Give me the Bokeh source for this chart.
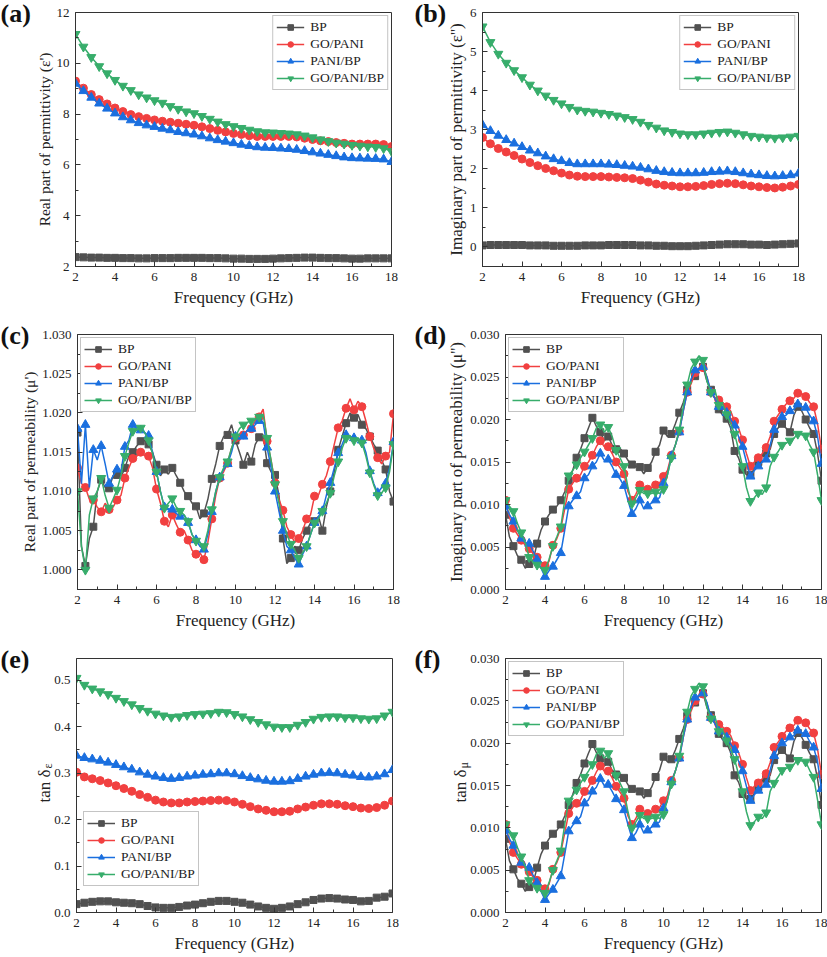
from bokeh.plotting import figure
from bokeh.layouts import column, row
from bokeh.models import FixedTicker, PrintfTickFormatter, Range1d, Title
from bokeh.embed import file_html
from bokeh.resources import INLINE

# ---------------- data ----------------
SERIES = ["BP", "GO/PANI", "PANI/BP", "GO/PANI/BP"]

FREQ41 = [2.0, 2.4, 2.8, 3.2, 3.6, 4.0, 4.4, 4.8, 5.2, 5.6, 6.0, 6.4, 6.8, 7.2, 7.6, 8.0, 8.4,
          8.8, 9.2, 9.6, 10.0, 10.4, 10.8, 11.2, 11.6, 12.0, 12.4, 12.8, 13.2, 13.6, 14.0, 14.4,
          14.8, 15.2, 15.6, 16.0, 16.4, 16.8, 17.2, 17.6, 18.0]

FREQ81 = [2.0, 2.2, 2.4, 2.6, 2.8, 3.0, 3.2, 3.4, 3.6, 3.8, 4.0, 4.2, 4.4, 4.6, 4.8, 5.0, 5.2,
          5.4, 5.6, 5.8, 6.0, 6.2, 6.4, 6.6, 6.8, 7.0, 7.2, 7.4, 7.6, 7.8, 8.0, 8.2, 8.4, 8.6,
          8.8, 9.0, 9.2, 9.4, 9.6, 9.8, 10.0, 10.2, 10.4, 10.6, 10.8, 11.0, 11.2, 11.4, 11.6,
          11.8, 12.0, 12.2, 12.4, 12.6, 12.8, 13.0, 13.2, 13.4, 13.6, 13.8, 14.0, 14.2, 14.4,
          14.6, 14.8, 15.0, 15.2, 15.4, 15.6, 15.8, 16.0, 16.2, 16.4, 16.6, 16.8, 17.0, 17.2,
          17.4, 17.6, 17.8, 18.0]

# (a) real permittivity
EPS_R_BP = [2.37, 2.36, 2.35, 2.35, 2.34, 2.34, 2.33, 2.33, 2.32, 2.32, 2.33, 2.33, 2.33, 2.34,
            2.34, 2.34, 2.34, 2.33, 2.33, 2.32, 2.31, 2.31, 2.30, 2.30, 2.30, 2.31, 2.32, 2.33,
            2.34, 2.35, 2.35, 2.34, 2.33, 2.33, 2.32, 2.31, 2.31, 2.32, 2.32, 2.32, 2.32]
EPS_R_GOPANI = [9.30, 9.02, 8.77, 8.57, 8.40, 8.24, 8.10, 7.98, 7.90, 7.83, 7.77, 7.72, 7.68,
                7.64, 7.60, 7.56, 7.50, 7.43, 7.36, 7.30, 7.24, 7.20, 7.15, 7.12, 7.12, 7.12,
                7.12, 7.12, 7.10, 7.05, 7.00, 6.95, 6.92, 6.88, 6.85, 6.82, 6.82, 6.82, 6.82,
                6.80, 6.72]
EPS_R_PANIBP = [9.20, 8.91, 8.65, 8.42, 8.22, 8.03, 7.88, 7.76, 7.65, 7.56, 7.50, 7.43, 7.37,
                7.30, 7.25, 7.20, 7.13, 7.05, 6.98, 6.92, 6.86, 6.80, 6.75, 6.70, 6.68, 6.67,
                6.65, 6.63, 6.60, 6.55, 6.50, 6.45, 6.40, 6.35, 6.30, 6.27, 6.26, 6.25, 6.24,
                6.22, 6.12]
EPS_R_GOPANIBP = [11.15, 10.65, 10.24, 9.88, 9.60, 9.34, 9.11, 8.94, 8.77, 8.65, 8.54, 8.44,
                  8.31, 8.20, 8.10, 8.03, 7.92, 7.81, 7.70, 7.60, 7.52, 7.45, 7.38, 7.32, 7.28,
                  7.27, 7.25, 7.23, 7.20, 7.15, 7.08, 7.00, 6.93, 6.87, 6.83, 6.78, 6.75, 6.72,
                  6.70, 6.65, 6.54]

# (b) imaginary permittivity
EPS_I_BP = [0.04, 0.05, 0.05, 0.05, 0.05, 0.05, 0.04, 0.04, 0.04, 0.03, 0.03, 0.03, 0.03, 0.04,
            0.04, 0.04, 0.05, 0.05, 0.05, 0.05, 0.04, 0.04, 0.03, 0.03, 0.02, 0.02, 0.02, 0.03,
            0.04, 0.05, 0.06, 0.07, 0.07, 0.07, 0.06, 0.06, 0.05, 0.06, 0.07, 0.08, 0.09]
EPS_I_GOPANI = [2.80, 2.64, 2.52, 2.43, 2.34, 2.25, 2.16, 2.08, 2.01, 1.95, 1.89, 1.84, 1.81,
                1.80, 1.80, 1.80, 1.79, 1.78, 1.77, 1.75, 1.71, 1.66, 1.61, 1.58, 1.56, 1.54,
                1.54, 1.55, 1.57, 1.60, 1.62, 1.63, 1.62, 1.59, 1.56, 1.54, 1.52, 1.51, 1.53,
                1.56, 1.60]
EPS_I_PANIBP = [3.12, 2.97, 2.85, 2.74, 2.65, 2.56, 2.47, 2.40, 2.32, 2.25, 2.20, 2.15, 2.12,
                2.12, 2.12, 2.12, 2.11, 2.10, 2.08, 2.06, 2.03, 1.99, 1.95, 1.92, 1.90, 1.89,
                1.89, 1.89, 1.90, 1.92, 1.93, 1.94, 1.92, 1.89, 1.86, 1.84, 1.82, 1.81, 1.82,
                1.84, 1.88]
EPS_I_GOPANIBP = [5.64, 5.24, 4.94, 4.71, 4.52, 4.34, 4.15, 4.00, 3.87, 3.76, 3.67, 3.58, 3.51,
                  3.48, 3.46, 3.43, 3.40, 3.36, 3.32, 3.27, 3.20, 3.12, 3.05, 2.98, 2.94, 2.90,
                  2.88, 2.88, 2.90, 2.92, 2.94, 2.95, 2.92, 2.88, 2.84, 2.82, 2.80, 2.79, 2.80,
                  2.82, 2.84]

# (c) real permeability
MU_R_BP = [1.0175, 1.0030, 1.0005, 1.0040, 1.0055, 1.0100, 1.0115, 1.0105, 1.0104, 1.0120,
           1.0121, 1.0118, 1.0130, 1.0145, 1.0150, 1.0158, 1.0164, 1.0165, 1.0160, 1.0150,
           1.0134, 1.0120, 1.0128, 1.0122, 1.0130, 1.0120, 1.0111, 1.0100, 1.0094, 1.0085,
           1.0081, 1.0065, 1.0072, 1.0090, 1.0116, 1.0135, 1.0158, 1.0170, 1.0172, 1.0185,
           1.0165, 1.0150, 1.0134, 1.0150, 1.0138, 1.0160, 1.0169, 1.0172, 1.0136, 1.0125,
           1.0121, 1.0095, 1.0040, 1.0008, 1.0015, 1.0030, 1.0025, 1.0040, 1.0050, 1.0060,
           1.0062, 1.0068, 1.0050, 1.0080, 1.0100, 1.0125, 1.0153, 1.0170, 1.0187, 1.0200,
           1.0194, 1.0198, 1.0185, 1.0180, 1.0170, 1.0160, 1.0152, 1.0140, 1.0128, 1.0100,
           1.0087]
MU_R_GOPANI = [1.0130, 1.0110, 1.0105, 1.0090, 1.0089, 1.0080, 1.0074, 1.0085, 1.0077, 1.0080,
               1.0089, 1.0095, 1.0117, 1.0130, 1.0142, 1.0145, 1.0150, 1.0146, 1.0145, 1.0130,
               1.0103, 1.0085, 1.0062, 1.0055, 1.0070, 1.0058, 1.0048, 1.0050, 1.0038, 1.0025,
               1.0020, 1.0022, 1.0013, 1.0035, 1.0065, 1.0095, 1.0117, 1.0125, 1.0136, 1.0155,
               1.0168, 1.0165, 1.0172, 1.0178, 1.0180, 1.0190, 1.0195, 1.0205, 1.0164, 1.0140,
               1.0111, 1.0090, 1.0076, 1.0055, 1.0045, 1.0035, 1.0040, 1.0050, 1.0065, 1.0070,
               1.0094, 1.0095, 1.0109, 1.0120, 1.0138, 1.0160, 1.0181, 1.0190, 1.0206, 1.0218,
               1.0204, 1.0215, 1.0208, 1.0190, 1.0170, 1.0155, 1.0143, 1.0135, 1.0145, 1.0150,
               1.0199]
MU_R_PANIBP = [1.0180, 1.0110, 1.0185, 1.0105, 1.0153, 1.0140, 1.0158, 1.0135, 1.0110, 1.0120,
               1.0128, 1.0125, 1.0157, 1.0165, 1.0185, 1.0180, 1.0178, 1.0175, 1.0171, 1.0150,
               1.0125, 1.0100, 1.0080, 1.0078, 1.0077, 1.0072, 1.0068, 1.0070, 1.0060, 1.0045,
               1.0038, 1.0030, 1.0026, 1.0045, 1.0074, 1.0100, 1.0118, 1.0128, 1.0135, 1.0150,
               1.0170, 1.0172, 1.0170, 1.0178, 1.0180, 1.0185, 1.0190, 1.0188, 1.0156, 1.0130,
               1.0100, 1.0075, 1.0050, 1.0030, 1.0025, 1.0015, 1.0007, 1.0020, 1.0030, 1.0045,
               1.0060, 1.0068, 1.0075, 1.0095, 1.0111, 1.0130, 1.0149, 1.0160, 1.0172, 1.0170,
               1.0168, 1.0165, 1.0165, 1.0150, 1.0126, 1.0110, 1.0098, 1.0105, 1.0110, 1.0130,
               1.0163]
MU_R_GOPANIBP = [1.0100, 1.0030, 1.0000, 1.0070, 1.0091, 1.0100, 1.0117, 1.0095, 1.0079, 1.0090,
                 1.0102, 1.0120, 1.0145, 1.0162, 1.0177, 1.0178, 1.0181, 1.0175, 1.0165, 1.0148,
                 1.0125, 1.0100, 1.0079, 1.0085, 1.0091, 1.0080, 1.0075, 1.0070, 1.0062, 1.0045,
                 1.0037, 1.0035, 1.0030, 1.0050, 1.0077, 1.0100, 1.0118, 1.0130, 1.0138, 1.0155,
                 1.0170, 1.0180, 1.0185, 1.0188, 1.0190, 1.0192, 1.0195, 1.0198, 1.0168, 1.0140,
                 1.0109, 1.0085, 1.0062, 1.0045, 1.0033, 1.0025, 1.0015, 1.0022, 1.0030, 1.0045,
                 1.0060, 1.0065, 1.0075, 1.0085, 1.0098, 1.0120, 1.0138, 1.0155, 1.0168, 1.0170,
                 1.0165, 1.0168, 1.0162, 1.0145, 1.0124, 1.0108, 1.0095, 1.0098, 1.0105, 1.0125,
                 1.0160]

# (d) imaginary permeability
MU_I_BP = [0.0088, 0.0062, 0.0051, 0.0040, 0.0035, 0.0025, 0.0030, 0.0035, 0.0054, 0.0070,
           0.0080, 0.0088, 0.0094, 0.0098, 0.0105, 0.0115, 0.0128, 0.0140, 0.0155, 0.0165,
           0.0178, 0.0190, 0.0202, 0.0192, 0.0185, 0.0175, 0.0180, 0.0170, 0.0165, 0.0166,
           0.0160, 0.0152, 0.0147, 0.0145, 0.0144, 0.0136, 0.0143, 0.0150, 0.0162, 0.0170,
           0.0187, 0.0180, 0.0183, 0.0195, 0.0208, 0.0220, 0.0235, 0.0245, 0.0251, 0.0260,
           0.0262, 0.0245, 0.0235, 0.0225, 0.0212, 0.0205, 0.0201, 0.0190, 0.0163, 0.0155,
           0.0141, 0.0135, 0.0135, 0.0142, 0.0150, 0.0158, 0.0160, 0.0165, 0.0183, 0.0190,
           0.0195, 0.0190, 0.0185, 0.0205, 0.0215, 0.0210, 0.0200, 0.0190, 0.0183, 0.0160,
           0.0128]
MU_I_GOPANI = [0.0105, 0.0085, 0.0072, 0.0065, 0.0058, 0.0052, 0.0048, 0.0042, 0.0038, 0.0032,
               0.0028, 0.0033, 0.0052, 0.0060, 0.0072, 0.0095, 0.0118, 0.0125, 0.0131, 0.0135,
               0.0145, 0.0150, 0.0158, 0.0168, 0.0175, 0.0168, 0.0168, 0.0160, 0.0150, 0.0143,
               0.0136, 0.0115, 0.0105, 0.0112, 0.0123, 0.0118, 0.0118, 0.0120, 0.0123, 0.0125,
               0.0133, 0.0140, 0.0158, 0.0170, 0.0186, 0.0210, 0.0232, 0.0242, 0.0255, 0.0260,
               0.0261, 0.0250, 0.0232, 0.0225, 0.0223, 0.0220, 0.0215, 0.0210, 0.0198, 0.0190,
               0.0176, 0.0160, 0.0145, 0.0150, 0.0155, 0.0160, 0.0167, 0.0180, 0.0198, 0.0205,
               0.0212, 0.0218, 0.0222, 0.0225, 0.0231, 0.0230, 0.0227, 0.0220, 0.0215, 0.0195,
               0.0165]
MU_I_PANIBP = [0.0098, 0.0088, 0.0080, 0.0070, 0.0060, 0.0055, 0.0054, 0.0045, 0.0035, 0.0025,
               0.0015, 0.0022, 0.0027, 0.0035, 0.0043, 0.0070, 0.0098, 0.0105, 0.0110, 0.0115,
               0.0131, 0.0135, 0.0145, 0.0150, 0.0160, 0.0152, 0.0153, 0.0145, 0.0135, 0.0130,
               0.0122, 0.0105, 0.0089, 0.0095, 0.0105, 0.0095, 0.0098, 0.0102, 0.0105, 0.0108,
               0.0125, 0.0135, 0.0157, 0.0170, 0.0185, 0.0210, 0.0232, 0.0248, 0.0258, 0.0260,
               0.0262, 0.0250, 0.0232, 0.0225, 0.0215, 0.0215, 0.0208, 0.0200, 0.0193, 0.0180,
               0.0168, 0.0150, 0.0133, 0.0140, 0.0145, 0.0150, 0.0153, 0.0170, 0.0188, 0.0198,
               0.0203, 0.0205, 0.0210, 0.0212, 0.0218, 0.0215, 0.0214, 0.0205, 0.0198, 0.0180,
               0.0148]
MU_I_GOPANIBP = [0.0105, 0.0098, 0.0092, 0.0078, 0.0067, 0.0055, 0.0038, 0.0032, 0.0029, 0.0025,
                 0.0023, 0.0035, 0.0051, 0.0062, 0.0074, 0.0105, 0.0134, 0.0140, 0.0147, 0.0155,
                 0.0162, 0.0170, 0.0178, 0.0190, 0.0194, 0.0185, 0.0191, 0.0180, 0.0164, 0.0155,
                 0.0145, 0.0120, 0.0101, 0.0108, 0.0117, 0.0113, 0.0113, 0.0113, 0.0115, 0.0113,
                 0.0118, 0.0135, 0.0155, 0.0170, 0.0188, 0.0215, 0.0241, 0.0260, 0.0268, 0.0275,
                 0.0270, 0.0245, 0.0232, 0.0235, 0.0217, 0.0218, 0.0206, 0.0195, 0.0183, 0.0165,
                 0.0145, 0.0120, 0.0104, 0.0108, 0.0114, 0.0112, 0.0120, 0.0145, 0.0156, 0.0162,
                 0.0170, 0.0172, 0.0175, 0.0178, 0.0183, 0.0182, 0.0181, 0.0170, 0.0162, 0.0135,
                 0.0105]

# (e) dielectric loss tangent
TAN_E_BP = [0.018, 0.021, 0.023, 0.024, 0.024, 0.022, 0.021, 0.020, 0.018, 0.014, 0.011, 0.010,
            0.010, 0.012, 0.015, 0.017, 0.020, 0.023, 0.025, 0.025, 0.023, 0.021, 0.017, 0.013,
            0.010, 0.008, 0.010, 0.013, 0.018, 0.022, 0.027, 0.030, 0.031, 0.030, 0.028, 0.027,
            0.024, 0.025, 0.032, 0.034, 0.041]
TAN_E_GOPANI = [0.302, 0.292, 0.288, 0.284, 0.279, 0.273, 0.267, 0.261, 0.254, 0.248, 0.242,
                0.238, 0.236, 0.236, 0.238, 0.239, 0.240, 0.241, 0.242, 0.241, 0.238, 0.233,
                0.228, 0.223, 0.220, 0.217, 0.217, 0.218, 0.223, 0.227, 0.231, 0.234, 0.234,
                0.233, 0.230, 0.228, 0.225, 0.224, 0.226, 0.231, 0.240]
TAN_E_PANIBP = [0.338, 0.333, 0.330, 0.327, 0.323, 0.318, 0.313, 0.308, 0.302, 0.297, 0.293,
                0.290, 0.288, 0.290, 0.293, 0.295, 0.297, 0.298, 0.300, 0.300, 0.298, 0.294,
                0.290, 0.287, 0.284, 0.282, 0.282, 0.283, 0.288, 0.293, 0.297, 0.300, 0.301,
                0.300, 0.297, 0.295, 0.292, 0.291, 0.293, 0.298, 0.307]
TAN_E_GOPANIBP = [0.505, 0.490, 0.482, 0.476, 0.470, 0.462, 0.455, 0.448, 0.440, 0.434, 0.428,
                  0.424, 0.421, 0.422, 0.425, 0.427, 0.428, 0.429, 0.432, 0.431, 0.427, 0.422,
                  0.416, 0.410, 0.405, 0.400, 0.399, 0.399, 0.404, 0.410, 0.417, 0.421, 0.422,
                  0.422, 0.420, 0.420, 0.418, 0.417, 0.418, 0.424, 0.432]

# (f) magnetic loss tangent
TAN_M_BP = [0.0087, 0.0061, 0.0051, 0.0040, 0.0034, 0.0025, 0.0030, 0.0035, 0.0053, 0.0069,
            0.0079, 0.0087, 0.0093, 0.0097, 0.0104, 0.0114, 0.0127, 0.0139, 0.0153, 0.0163,
            0.0176, 0.0188, 0.0199, 0.0189, 0.0182, 0.0173, 0.0178, 0.0168, 0.0163, 0.0164,
            0.0159, 0.0151, 0.0146, 0.0144, 0.0143, 0.0135, 0.0141, 0.0148, 0.0160, 0.0168,
            0.0184, 0.0178, 0.0181, 0.0192, 0.0205, 0.0217, 0.0232, 0.0242, 0.0248, 0.0257,
            0.0259, 0.0242, 0.0233, 0.0224, 0.0211, 0.0204, 0.0200, 0.0189, 0.0162, 0.0154,
            0.0140, 0.0134, 0.0134, 0.0141, 0.0148, 0.0156, 0.0158, 0.0162, 0.0180, 0.0187,
            0.0192, 0.0187, 0.0182, 0.0202, 0.0212, 0.0207, 0.0198, 0.0188, 0.0181, 0.0158,
            0.0127]
TAN_M_GOPANI = [0.0104, 0.0084, 0.0071, 0.0064, 0.0057, 0.0052, 0.0048, 0.0042, 0.0038, 0.0032,
                0.0028, 0.0033, 0.0051, 0.0059, 0.0071, 0.0094, 0.0117, 0.0124, 0.0129, 0.0133,
                0.0143, 0.0148, 0.0156, 0.0166, 0.0173, 0.0167, 0.0167, 0.0159, 0.0149, 0.0142,
                0.0135, 0.0114, 0.0104, 0.0111, 0.0122, 0.0117, 0.0117, 0.0119, 0.0122, 0.0124,
                0.0132, 0.0138, 0.0156, 0.0167, 0.0183, 0.0207, 0.0228, 0.0238, 0.0250, 0.0255,
                0.0258, 0.0247, 0.0230, 0.0224, 0.0222, 0.0219, 0.0214, 0.0209, 0.0197, 0.0189,
                0.0175, 0.0159, 0.0144, 0.0149, 0.0153, 0.0158, 0.0164, 0.0177, 0.0195, 0.0201,
                0.0208, 0.0214, 0.0218, 0.0221, 0.0227, 0.0226, 0.0224, 0.0217, 0.0212, 0.0193,
                0.0163]
TAN_M_PANIBP = [0.0097, 0.0087, 0.0079, 0.0069, 0.0059, 0.0054, 0.0053, 0.0044, 0.0035, 0.0025,
                0.0015, 0.0022, 0.0027, 0.0035, 0.0043, 0.0069, 0.0096, 0.0103, 0.0108, 0.0113,
                0.0129, 0.0133, 0.0143, 0.0148, 0.0158, 0.0150, 0.0151, 0.0143, 0.0134, 0.0129,
                0.0121, 0.0104, 0.0088, 0.0094, 0.0104, 0.0094, 0.0097, 0.0101, 0.0104, 0.0107,
                0.0123, 0.0133, 0.0154, 0.0167, 0.0182, 0.0207, 0.0228, 0.0244, 0.0254, 0.0256,
                0.0259, 0.0248, 0.0230, 0.0223, 0.0214, 0.0214, 0.0207, 0.0199, 0.0192, 0.0179,
                0.0167, 0.0149, 0.0132, 0.0139, 0.0144, 0.0148, 0.0151, 0.0168, 0.0185, 0.0195,
                0.0200, 0.0202, 0.0207, 0.0209, 0.0215, 0.0212, 0.0211, 0.0202, 0.0195, 0.0178,
                0.0146]
TAN_M_GOPANIBP = [0.0104, 0.0097, 0.0091, 0.0077, 0.0066, 0.0054, 0.0038, 0.0032, 0.0029, 0.0025,
                  0.0023, 0.0035, 0.0050, 0.0061, 0.0073, 0.0104, 0.0132, 0.0138, 0.0145, 0.0153,
                  0.0160, 0.0167, 0.0175, 0.0187, 0.0191, 0.0182, 0.0188, 0.0177, 0.0162, 0.0153,
                  0.0143, 0.0119, 0.0100, 0.0107, 0.0115, 0.0111, 0.0111, 0.0111, 0.0113, 0.0111,
                  0.0116, 0.0133, 0.0152, 0.0167, 0.0185, 0.0211, 0.0237, 0.0256, 0.0264, 0.0271,
                  0.0267, 0.0242, 0.0229, 0.0232, 0.0214, 0.0215, 0.0203, 0.0193, 0.0181, 0.0163,
                  0.0143, 0.0119, 0.0103, 0.0107, 0.0113, 0.0111, 0.0118, 0.0143, 0.0153, 0.0160,
                  0.0168, 0.0170, 0.0172, 0.0175, 0.0180, 0.0179, 0.0178, 0.0168, 0.0160, 0.0133,
                  0.0104]

X_TICKS = [2, 4, 6, 8, 10, 12, 14, 16, 18]
X_MINOR = [3, 5, 7, 9, 11, 13, 15, 17]

# ---------------- style ----------------
FONT = "Liberation Serif"
INK = "#222222"
COLORS = {"BP": "#515151", "GO/PANI": "#F14040", "PANI/BP": "#1A6FDF", "GO/PANI/BP": "#37AD6B"}
MARKERS = {"BP": "square", "GO/PANI": "circle", "PANI/BP": "triangle", "GO/PANI/BP": "inverted_triangle"}
SIZES = {"BP": 7, "GO/PANI": 8, "PANI/BP": 9, "GO/PANI/BP": 9}
FW = 316


def make_fig(fh, bl, br, bt, bb, yr, yticks, yminor, yfmt, ylabel, ylabel_size, tag):
    p = figure(frame_width=FW, frame_height=fh,
               min_border_left=bl, min_border_right=br, min_border_top=bt, min_border_bottom=bb,
               x_range=Range1d(2, 18), y_range=Range1d(*yr),
               output_backend="svg", toolbar_location=None)
    p.background_fill_color = "white"
    p.border_fill_color = "white"
    p.outline_line_color = "#333333"
    p.outline_line_width = 1
    p.outline_line_alpha = 1
    p.xgrid.visible = False
    p.ygrid.visible = False
    p.xaxis.ticker = FixedTicker(ticks=X_TICKS, minor_ticks=X_MINOR)
    p.yaxis.ticker = FixedTicker(ticks=yticks, minor_ticks=yminor)
    p.yaxis.formatter = PrintfTickFormatter(format=yfmt)
    for ax in (p.xaxis[0], p.yaxis[0]):
        ax.axis_line_color = "#333333"
        ax.major_tick_line_color = "#333333"
        ax.minor_tick_line_color = "#333333"
        ax.major_tick_in = 5
        ax.major_tick_out = 0
        ax.minor_tick_in = 3
        ax.minor_tick_out = 0
        ax.major_label_text_font = FONT
        ax.major_label_text_font_size = "13px"
        ax.major_label_text_color = INK
        ax.axis_label_text_font = FONT
        ax.axis_label_text_font_style = "normal"
        ax.axis_label_text_color = INK
    p.xaxis.axis_label = "Frequency (GHz)"
    p.xaxis.axis_label_text_font_size = "17px"
    p.xaxis.major_label_standoff = 6
    p.xaxis.axis_label_standoff = 4
    p.yaxis.major_label_standoff = 6
    p.yaxis.axis_label_standoff = 1
    if ylabel:
        p.yaxis.axis_label = ylabel
        p.yaxis.axis_label_text_font_size = ylabel_size
    # panel tag, drawn by the plot title pulled to the left of the frame
    p.title.text = tag
    p.title.align = "left"
    p.title.offset = -bl
    p.title.standoff = -31
    p.title.text_font = FONT
    p.title.text_font_size = "26px"
    p.title.text_font_style = "bold"
    p.title.text_color = "#111111"
    return p


def add_series(p, x, data, every):
    for name, y in zip(SERIES, data):
        c = COLORS[name]
        p.line(x, y, line_color=c, line_width=1.5, legend_label=name)
        p.scatter(x[::every], y[::every], marker=MARKERS[name], size=SIZES[name],
                  fill_color=c, line_color=c, legend_label=name)


def style_legend(p, loc):
    lg = p.legend[0]
    lg.location = loc
    lg.label_text_font = FONT
    lg.label_text_font_size = "13.5px"
    lg.label_text_color = INK
    lg.glyph_width = 28
    lg.glyph_height = 14
    lg.label_height = 14
    lg.label_standoff = 6
    lg.spacing = 1
    lg.padding = 3
    lg.margin = 3
    lg.border_line_color = "#8a8a8a"
    lg.border_line_width = 1
    lg.background_fill_alpha = 1


def tan_label(p, sub):
    # "tan δ" with a smaller subscript, as vertical side titles left of the y axis
    p.add_layout(Title(text="tan δ", align="left", offset=110, standoff=-4,
                       text_font=FONT, text_font_size="17px", text_font_style="normal",
                       text_color=INK), "left")
    p.add_layout(Title(text=sub, align="left", offset=144, standoff=-40,
                       text_font=FONT, text_font_size="12px", text_font_style="normal",
                       text_color=INK), "left")


# row 1 : frames at y 12..266
pa = make_fig(254, 75, 23, 12, 50, (2, 12), [2, 4, 6, 8, 10, 12], [3, 5, 7, 9, 11], "%d",
              "Real part of permittivity (ε')", "15.5px", "(a)")
add_series(pa, FREQ41, [EPS_R_BP, EPS_R_GOPANI, EPS_R_PANIBP, EPS_R_GOPANIBP], 1)
style_legend(pa, "top_right")

pb = make_fig(254, 68, 29, 12, 50, (-0.5, 6), [0, 1, 2, 3, 4, 5, 6],
              [-0.5, 0.5, 1.5, 2.5, 3.5, 4.5, 5.5], "%d",
              "Imaginary part of permittivity (ε'')", "17px", "(b)")
add_series(pb, FREQ41, [EPS_I_BP, EPS_I_GOPANI, EPS_I_PANIBP, EPS_I_GOPANIBP], 1)
style_legend(pb, "top_right")

# row 2 : frames at y 334..589
pc = make_fig(255, 77, 21, 18, 46, (0.9975, 1.030),
              [1.000, 1.005, 1.010, 1.015, 1.020, 1.025, 1.030],
              [1.0025, 1.0075, 1.0125, 1.0175, 1.0225, 1.0275], "%.3f",
              "Real part of permeability (μ')", "15.5px", "(c)")
add_series(pc, FREQ81, [MU_R_BP, MU_R_GOPANI, MU_R_PANIBP, MU_R_GOPANIBP], 2)
style_legend(pc, "top_left")

pd_ = make_fig(255, 91, 6, 18, 46, (0, 0.030),
               [0.000, 0.005, 0.010, 0.015, 0.020, 0.025, 0.030],
               [0.0025, 0.0075, 0.0125, 0.0175, 0.0225, 0.0275], "%.3f",
               "Imaginary part of permeability (μ'')", "17px", "(d)")
add_series(pd_, FREQ81, [MU_I_BP, MU_I_GOPANI, MU_I_PANIBP, MU_I_GOPANIBP], 2)
style_legend(pd_, "top_left")

# row 3 : frames at y 658..912
pe = make_fig(254, 76, 22, 23, 45, (0, 0.547), [0.0, 0.1, 0.2, 0.3, 0.4, 0.5],
              [0.05, 0.15, 0.25, 0.35, 0.45], "%.1f", None, None, "(e)")
add_series(pe, FREQ41, [TAN_E_BP, TAN_E_GOPANI, TAN_E_PANIBP, TAN_E_GOPANIBP], 1)
style_legend(pe, (7, 26))
tan_label(pe, "ε")

pf = make_fig(254, 91, 6, 23, 45, (0, 0.030),
              [0.000, 0.005, 0.010, 0.015, 0.020, 0.025, 0.030],
              [0.0025, 0.0075, 0.0125, 0.0175, 0.0225, 0.0275], "%.3f", None, None, "(f)")
add_series(pf, FREQ81, [TAN_M_BP, TAN_M_GOPANI, TAN_M_PANIBP, TAN_M_GOPANIBP], 2)
style_legend(pf, "top_left")
tan_label(pf, "μ")

layout = column(row(pa, pb), row(pc, pd_), row(pe, pf))

open("out.html", "w").write(file_html(layout, INLINE))
